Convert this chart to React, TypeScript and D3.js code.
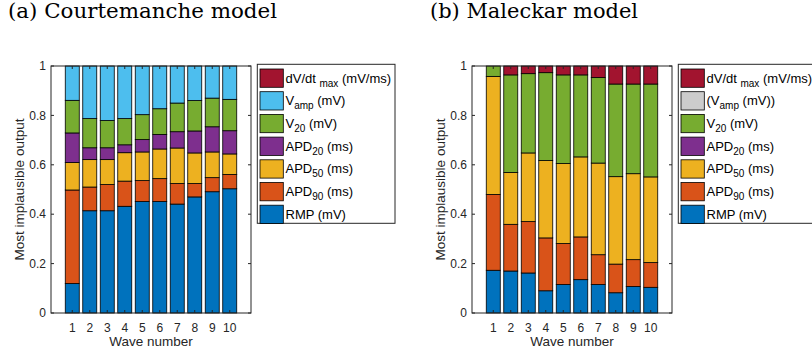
import * as d3 from 'd3';
import React from 'react';

// wave numbers on the x axis
const waves = ['1', '2', '3', '4', '5', '6', '7', '8', '9', '10'];
const yTicks = [0, 0.2, 0.4, 0.6, 0.8, 1];

// (a) Courtemanche, share of each output per wave (bottom to top)
const courtRMP = [0.119, 0.414, 0.414, 0.432, 0.451, 0.451, 0.441, 0.470, 0.491, 0.503];
const courtAPD90 = [0.379, 0.096, 0.106, 0.102, 0.085, 0.093, 0.083, 0.054, 0.057, 0.058];
const courtAPD50 = [0.111, 0.111, 0.101, 0.115, 0.116, 0.120, 0.144, 0.124, 0.104, 0.083];
const courtAPD20 = [0.120, 0.048, 0.048, 0.032, 0.050, 0.059, 0.066, 0.089, 0.102, 0.094];
const courtV20 = [0.132, 0.118, 0.110, 0.106, 0.101, 0.104, 0.116, 0.123, 0.116, 0.127];
const courtVamp = [0.139, 0.213, 0.221, 0.213, 0.197, 0.173, 0.150, 0.140, 0.130, 0.135];
const courtDvdt = [0, 0, 0, 0, 0, 0, 0, 0, 0, 0];

// (b) Maleckar
const maleRMP = [0.173, 0.170, 0.162, 0.090, 0.115, 0.135, 0.115, 0.082, 0.107, 0.104];
const maleAPD90 = [0.307, 0.189, 0.208, 0.214, 0.166, 0.173, 0.121, 0.116, 0.109, 0.100];
const maleAPD50 = [0.478, 0.210, 0.278, 0.313, 0.324, 0.324, 0.371, 0.354, 0.348, 0.347];
const maleAPD20 = [0, 0, 0, 0, 0, 0, 0, 0, 0, 0];
const maleV20 = [0.042, 0.395, 0.321, 0.356, 0.359, 0.332, 0.346, 0.375, 0.363, 0.376];
const maleVamp = [0, 0, 0, 0, 0, 0, 0, 0, 0, 0];
const maleDvdt = [0, 0.036, 0.031, 0.027, 0.036, 0.036, 0.047, 0.073, 0.073, 0.073];

const keys = ['RMP', 'APD90', 'APD50', 'APD20', 'V20', 'Vamp', 'dVdt'];
const baseColors: Record<string, string> = {
  RMP: '#0072BD',
  APD90: '#D95319',
  APD50: '#EDB120',
  APD20: '#7E2F8E',
  V20: '#77AC30',
  Vamp: '#4DBEEE',
  dVdt: '#A2142F',
};

const axisColor = '#262626';
const sans = 'Liberation Sans, Arial, Helvetica, sans-serif';

function makeRows(cols: number[][]) {
  return waves.map((w, i) => {
    const row: any = { wave: w };
    keys.forEach((k, j) => (row[k] = cols[j][i]));
    return row;
  });
}

// legend label: [main, subscript, rest]
type Label = [string, string, string];

function Panel(props: {
  dx: number;
  title: string;
  titleX: number;
  titleLen: number;
  rows: any[];
  colors: Record<string, string>;
  labels: Record<string, Label>;
}) {
  const { dx, rows, colors, labels } = props;
  const left = 51, right = 251, top = 66, bottom = 313;

  const x = d3.scaleBand<string>().domain(waves).range([left, right]).paddingInner(0.2).paddingOuter(0.815);
  const y = d3.scaleLinear().domain([0, 1]).range([bottom, top]);
  const stacked = d3.stack<any>().keys(keys)(rows);

  const legendKeys = keys.slice().reverse();

  return (
    <g transform={`translate(${dx},0)`}>
      <text x={props.titleX - dx} y={17.5} fontFamily="DejaVu Serif, serif" fontSize={21}
        textLength={props.titleLen} lengthAdjust="spacingAndGlyphs" fill="#000">
        {props.title}
      </text>

      <rect x={left} y={top} width={right - left} height={bottom - top} fill="#fff" />

      {stacked.map((s) => (
        <g key={s.key}>
          {s.map((d, i) => (
            <rect
              key={i}
              x={x(waves[i])}
              y={y(d[1])}
              width={x.bandwidth()}
              height={y(d[0]) - y(d[1])}
              fill={colors[s.key]}
              stroke="#000"
              strokeWidth={0.8}
            />
          ))}
        </g>
      ))}

      {/* box and ticks */}
      <rect x={left} y={top} width={right - left} height={bottom - top} fill="none" stroke={axisColor} strokeWidth={1} />
      {yTicks.map((t) => (
        <g key={t}>
          <line x1={left} x2={left + 3} y1={y(t)} y2={y(t)} stroke={axisColor} />
          <line x1={right - 3} x2={right} y1={y(t)} y2={y(t)} stroke={axisColor} />
          <text x={left - 5} y={y(t)} dy="0.35em" textAnchor="end" fontFamily={sans} fontSize={12} fill={axisColor}>
            {String(t)}
          </text>
        </g>
      ))}
      {waves.map((w) => {
        const cx = (x(w) as number) + x.bandwidth() / 2;
        return (
          <g key={w}>
            <line x1={cx} x2={cx} y1={bottom} y2={bottom - 3} stroke={axisColor} />
            <line x1={cx} x2={cx} y1={top} y2={top + 3} stroke={axisColor} />
            <text x={cx} y={331.5} textAnchor="middle" fontFamily={sans} fontSize={12} fill={axisColor}>
              {w}
            </text>
          </g>
        );
      })}

      <text x={(left + right) / 2} y={346} textAnchor="middle" fontFamily={sans} fontSize={13.5} fill={axisColor}>
        Wave number
      </text>
      <text transform={`translate(23.5,${(top + bottom) / 2}) rotate(-90)`} textAnchor="middle"
        fontFamily={sans} fontSize={13.5} fill={axisColor}>
        Most implausible output
      </text>

      {/* legend */}
      <rect x={257.3} y={64.3} width={137.7} height={159} fill="#fff" stroke={axisColor} strokeWidth={1} />
      {legendKeys.map((k, i) => {
        const sy = 69 + i * 22.7;
        const lb = labels[k];
        return (
          <g key={k}>
            <rect x={260} y={sy} width={23.3} height={18.3} fill={colors[k]} stroke="#000" strokeWidth={0.8} />
            <text x={285.5} y={sy + 13.6} fontFamily={sans} fontSize={13} fill="#000">
              {lb[0]}
              {lb[1] ? (
                <tspan dy={4} fontSize={10}>{lb[1]}</tspan>
              ) : null}
              <tspan dy={lb[1] ? -4 : 0}>{lb[2]}</tspan>
            </text>
          </g>
        );
      })}
    </g>
  );
}

const courtLabels: Record<string, Label> = {
  dVdt: ['dV/dt ', 'max', ' (mV/ms)'],
  Vamp: ['V', 'amp', ' (mV)'],
  V20: ['V', '20', ' (mV)'],
  APD20: ['APD', '20', ' (ms)'],
  APD50: ['APD', '50', ' (ms)'],
  APD90: ['APD', '90', ' (ms)'],
  RMP: ['RMP (mV)', '', ''],
};

const maleLabels: Record<string, Label> = {
  ...courtLabels,
  Vamp: ['(V', 'amp', ' (mV))'],
};

export default function App() {
  const courtRows = makeRows([courtRMP, courtAPD90, courtAPD50, courtAPD20, courtV20, courtVamp, courtDvdt]);
  const maleRows = makeRows([maleRMP, maleAPD90, maleAPD50, maleAPD20, maleV20, maleVamp, maleDvdt]);
  const maleColors = { ...baseColors, Vamp: '#CCCCCC' };

  return (
    <svg width={812} height={356} style={{ position: 'absolute', left: 0, top: 0, background: '#fff' }}>
      <Panel dx={0} title="(a) Courtemanche model" titleX={8} titleLen={269}
        rows={courtRows} colors={baseColors} labels={courtLabels} />
      <Panel dx={421} title="(b) Maleckar model" titleX={430} titleLen={208}
        rows={maleRows} colors={maleColors} labels={maleLabels} />
    </svg>
  );
}
